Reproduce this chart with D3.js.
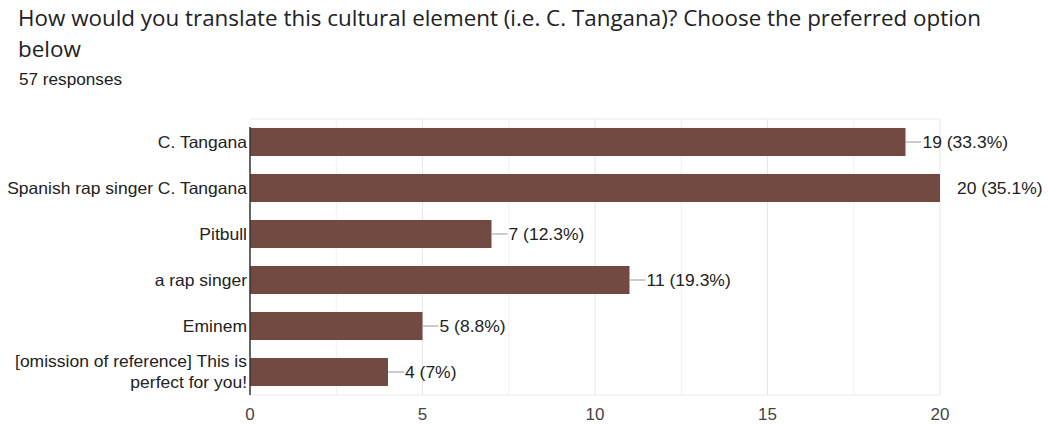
<!DOCTYPE html>
<html><head><meta charset="utf-8">
<script src="https://cdn.jsdelivr.net/npm/d3@7"></script>
<style>body{margin:0;background:#fff}</style>
</head><body>
<svg id="c" width="1048" height="425"></svg>
<script>
const categories = ["C. Tangana","Spanish rap singer C. Tangana","Pitbull","a rap singer","Eminem","[omission of reference] This is perfect for you!"];
const categoryLines = [["C. Tangana"],["Spanish rap singer C. Tangana"],["Pitbull"],["a rap singer"],["Eminem"],["[omission of reference] This is","perfect for you!"]];
const counts = [19,20,7,11,5,4];
const valueLabels = ["19 (33.3%)","20 (35.1%)","7 (12.3%)","11 (19.3%)","5 (8.8%)","4 (7%)"];
const xTicks = [0,5,10,15,20];
const gridValues = [2.5,5,7.5,10,12.5,15,17.5,20];

const svg = d3.select("#c");
const pLeft = 250, pRight = 940, pTop = 119, pBottom = 395;
const x = d3.scaleLinear().domain([0,20]).range([pLeft,pRight]);
const y = d3.scaleBand().domain(categories).range([pTop,pBottom]).paddingInner(0.39).paddingOuter(0.195);
const sans = "Liberation Sans, Arial, sans-serif";

// title
svg.append("text").attr("x",18).attr("y",26).attr("font-family","Open Sans, sans-serif").attr("font-size",21).attr("fill","#202124")
  .attr("textLength",963).attr("lengthAdjust","spacingAndGlyphs")
  .text("How would you translate this cultural element (i.e. C. Tangana)? Choose the preferred option");
svg.append("text").attr("x",18).attr("y",57).attr("font-family","Open Sans, sans-serif").attr("font-size",21).attr("fill","#202124")
  .attr("textLength",63).attr("lengthAdjust","spacingAndGlyphs").text("below");
svg.append("text").attr("x",19).attr("y",85).attr("font-family",sans).attr("font-size",16).attr("fill","#202124")
  .attr("textLength",103).attr("lengthAdjust","spacingAndGlyphs").text("57 responses");

// grid
svg.append("line").attr("x1",pLeft).attr("x2",pRight).attr("y1",pTop).attr("y2",pTop).attr("stroke","#ebebeb");
svg.append("line").attr("x1",pLeft).attr("x2",pRight).attr("y1",pBottom).attr("y2",pBottom).attr("stroke","#ebebeb");
svg.selectAll(".grid").data(gridValues).enter().append("line")
  .attr("x1",d=>x(d)).attr("x2",d=>x(d)).attr("y1",pTop).attr("y2",pBottom)
  .attr("stroke",(d)=>d%5===0?"#e6e6e6":"#f0f0f0");

// bars
svg.selectAll(".bar").data(counts).enter().append("rect")
  .attr("x",x(0)).attr("y",(d,i)=>y(categories[i]))
  .attr("width",d=>x(d)-x(0)).attr("height",y.bandwidth())
  .attr("fill","#734a42");

// y axis line
svg.append("line").attr("x1",pLeft).attr("x2",pLeft).attr("y1",pTop+8).attr("y2",pBottom).attr("stroke","#333").attr("stroke-width",1.5);

// leader lines + labels
const maxV = d3.max(counts);
svg.selectAll(".lead").data(counts).enter().append("line")
  .attr("x1",d=>x(d)).attr("x2",d=>x(d)+16)
  .attr("y1",(d,i)=>y(categories[i])+y.bandwidth()/2).attr("y2",(d,i)=>y(categories[i])+y.bandwidth()/2)
  .attr("stroke",d=>d===maxV?"none":"#999");
svg.selectAll(".vl").data(counts).enter().append("text")
  .attr("x",d=>x(d)+17).attr("y",(d,i)=>y(categories[i])+y.bandwidth()/2+6)
  .attr("font-family",sans).attr("font-size",16.5).attr("fill","#222")
  .attr("transform",(d,i)=>{const tx=x(d)+17;return `translate(${tx},0) scale(1.06,1) translate(${-tx},0)`;})
  .text((d,i)=>valueLabels[i]);

// category labels
categoryLines.forEach((lines,i)=>{
  const cy = y(categories[i])+y.bandwidth()/2;
  const ax = pLeft-3;
  const t = svg.append("text").attr("text-anchor","end").attr("font-family",sans).attr("font-size",16.5).attr("fill","#222")
    .attr("transform",`translate(${ax},0) scale(1.06,1) translate(${-ax},0)`);
  lines.forEach((ln,j)=>{
    t.append("tspan").attr("x",ax).attr("y",cy+6+(j-(lines.length-1)/2)*21).text(ln);
  });
});

// x tick labels
svg.selectAll(".xt").data(xTicks).enter().append("text")
  .attr("x",d=>x(d)).attr("y",420).attr("text-anchor","middle")
  .attr("font-family",sans).attr("font-size",17).attr("fill","#444")
  .text(d=>d);
</script>
</body></html>
